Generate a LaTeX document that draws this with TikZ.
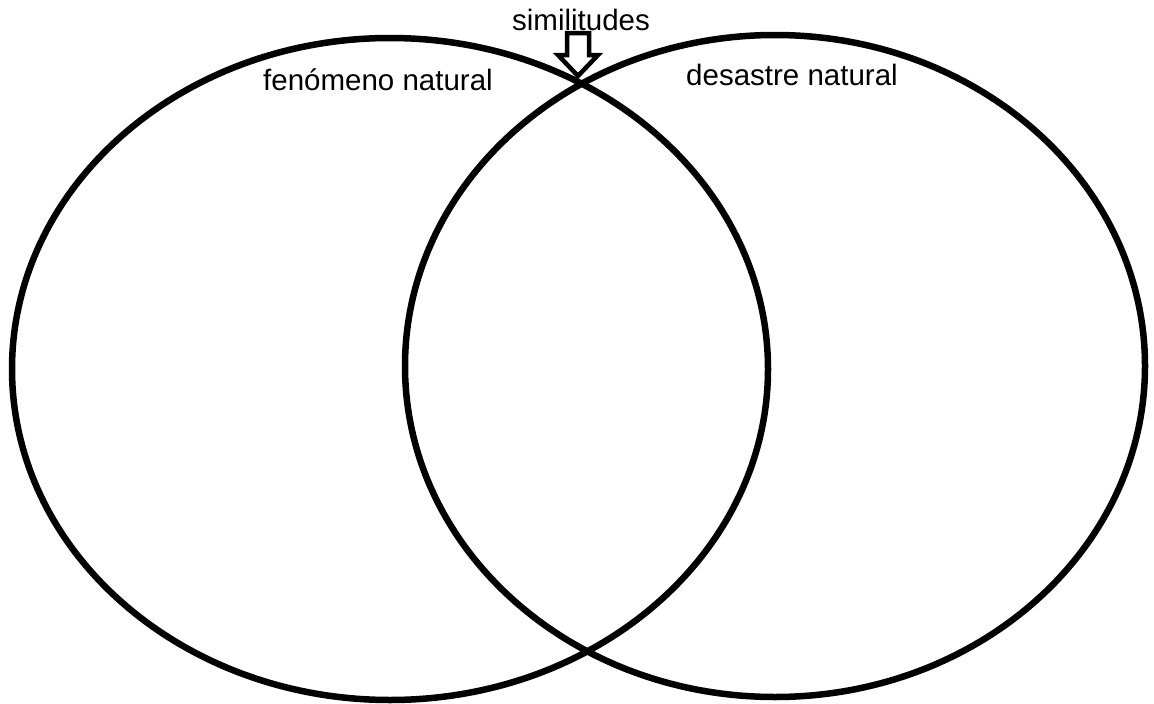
\documentclass[tikz,border=0pt]{standalone}
\usepackage{fontspec}
\setmainfont{Liberation Sans}
\usetikzlibrary{positioning}

\begin{document}
\begin{tikzpicture}[x=1pt, y=-1pt, line width=6.5pt,
  rotulo/.style={font=\fontsize{29.5}{34}\selectfont, inner sep=0pt, anchor=base}]
% marco de la imagen
\useasboundingbox (0,0) rectangle (1154,704);

% Conjuntos
\draw (390,369) ellipse [x radius=378, y radius=331];
\draw (775,366) ellipse [x radius=370, y radius=331];

% Nombres de los conjuntos
\node[rotulo] (fenomeno) at (378,90) {fenómeno natural};
\node[rotulo] (desastre) at (792,85) {desastre natural};
\node[rotulo] (simil) at (581,30) {similitudes};

% Flecha hueca hacia la intersección
\coordinate (punta) at (578,76);
\draw[line width=4.5pt, line join=miter, fill=white]
  (punta) -- ++(-20,-21) -- ++(9,0) -- ++(0,-22) -- ++(22,0)
  -- ++(0,22) -- ++(9,0) -- cycle;
\end{tikzpicture}
\end{document}
